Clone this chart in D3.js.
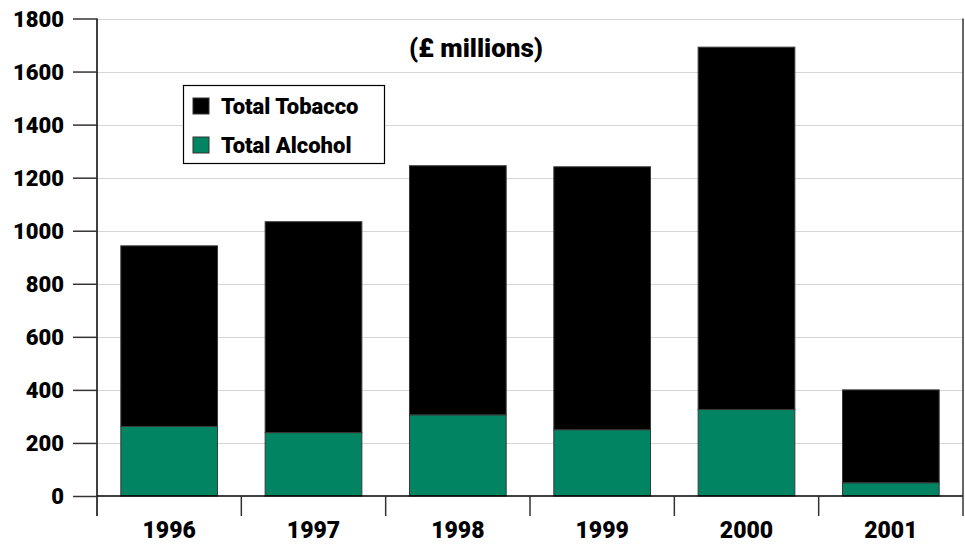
<!DOCTYPE html>
<html>
<head>
<meta charset="utf-8">
<script src="https://cdn.jsdelivr.net/npm/d3@7"></script>
<style>
  html, body { margin: 0; padding: 0; background: #fff; }
  svg { display: block; }
  text { font-family: Roboto, Lato, sans-serif; font-weight: 900; fill: #000; }
</style>
</head>
<body>
<svg id="chart" width="965" height="545"></svg>
<script>
const categories = ["1996", "1997", "1998", "1999", "2000", "2001"];
const alcohol = [262, 239, 306, 250, 326, 50];
const tobacco = [681, 795, 939, 991, 1366, 350];
const seriesNames = ["Total Tobacco", "Total Alcohol"];
const seriesColors = ["#000000", "#008462"];
const yTicks = [0, 200, 400, 600, 800, 1000, 1200, 1400, 1600, 1800];
const titleText = "(£ millions)";

const FONT = "Roboto, Lato, sans-serif";
const svg = d3.select("#chart");
const margin = { left: 97, right: 2, top: 18.5, bottom: 49 };
const W = 965, H = 545;

const x = d3.scaleBand().domain(categories).range([margin.left, W - margin.right]).paddingInner(0.33).paddingOuter(0.165);
const xb = d3.scaleBand().domain(categories).range([margin.left, W - margin.right]).padding(0);
const y = d3.scaleLinear().domain([0, 1800]).range([H - margin.bottom, margin.top]);

// gridlines
svg.append("g").selectAll("line").data(yTicks.filter(d => d > 0)).join("line")
  .attr("x1", margin.left).attr("x2", W - margin.right)
  .attr("y1", d => Math.round(y(d)) + 0.5).attr("y2", d => Math.round(y(d)) + 0.5)
  .attr("stroke", "#d6d6d6").attr("stroke-width", 1.2);

// stacked data
const rows = categories.map((c, i) => ({ cat: c, alcohol: alcohol[i], tobacco: tobacco[i] }));
const stack = d3.stack().keys(["alcohol", "tobacco"])(rows);
const colorFor = { alcohol: seriesColors[1], tobacco: seriesColors[0] };

svg.append("g").selectAll("g").data(stack).join("g")
  .attr("fill", d => colorFor[d.key])
  .selectAll("rect").data(d => d).join("rect")
  .attr("x", d => x(d.data.cat))
  .attr("width", x.bandwidth())
  .attr("y", d => y(d[1]))
  .attr("height", d => y(d[0]) - y(d[1]))
  .attr("stroke", "#3a3a3a").attr("stroke-width", 1);

// y axis
const yAxis = d3.axisLeft(y).tickValues(yTicks).tickSize(24).tickPadding(9).tickFormat(d3.format("d"));
const gy = svg.append("g").attr("transform", `translate(${margin.left},0)`).call(yAxis);
gy.select(".domain").attr("stroke", "#000").attr("stroke-width", 1.5).attr("d", `M0,${margin.top}V${H - 29}`);
gy.selectAll(".tick line").attr("stroke", "#333").attr("stroke-width", 1.5);
gy.selectAll(".tick text").style("font-size", "22px").style("font-family", FONT).style("font-weight", 900).attr("fill", "#000").attr("dy", "0.36em");

// x axis baseline
svg.append("line").attr("x1", margin.left).attr("x2", W - margin.right)
  .attr("y1", y(0)).attr("y2", y(0)).attr("stroke", "#000").attr("stroke-width", 1.5);

// category separators
const seps = categories.map(c => xb(c)).concat([xb(categories[categories.length - 1]) + xb.bandwidth()]);
svg.append("g").selectAll("line").data(seps.slice(1)).join("line")
  .attr("x1", d => d).attr("x2", d => d)
  .attr("y1", (d, i) => i === seps.length - 2 ? margin.top : y(0)).attr("y2", H - 29)
  .attr("stroke", "#333").attr("stroke-width", 1.5);

// category labels
svg.append("g").selectAll("text").data(categories).join("text")
  .attr("x", d => xb(d) + xb.bandwidth() / 2).attr("y", 538)
  .attr("text-anchor", "middle").style("font-size", "23px").text(d => d);

// title
svg.append("text").attr("x", 476).attr("y", 57).attr("text-anchor", "middle")
  .style("font-size", "26px").text(titleText);

// legend
const lg = svg.append("g");
lg.append("rect").attr("x", 183.5).attr("y", 85.5).attr("width", 201).attr("height", 78)
  .attr("fill", "#fff").attr("stroke", "#000").attr("stroke-width", 1.2);
seriesNames.forEach((n, i) => {
  const yy = 98 + i * 39;
  lg.append("rect").attr("x", 193).attr("y", yy).attr("width", 16).attr("height", 16)
    .attr("fill", seriesColors[i]).attr("stroke", "#333").attr("stroke-width", 1);
  lg.append("text").attr("x", 221).attr("y", yy + 16).style("font-size", "22px").text(n);
});
</script>
</body>
</html>
